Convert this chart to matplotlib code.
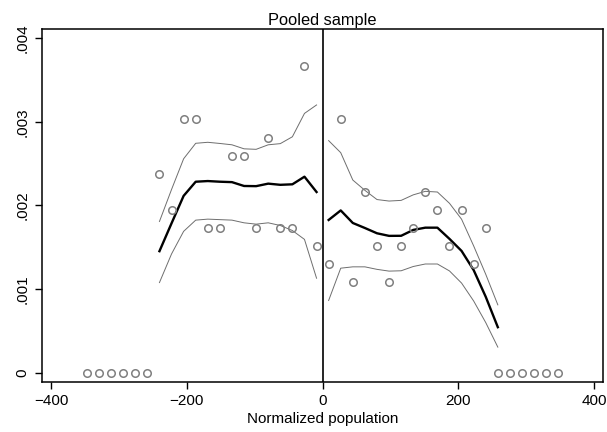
import numpy as np
import matplotlib.pyplot as plt

plt.rcParams['font.family'] = ['Liberation Sans', 'DejaVu Sans']

# bin centres and binned densities (left / right of the cutoff)
x_left = [-347.1, -329.3, -311.5, -293.7, -275.9, -258.1, -240.3, -222.5, -204.7, -186.9,
          -169.1, -151.3, -133.5, -115.7, -97.9, -80.1, -62.3, -44.5, -26.7, -8.9]
dens_left = [0, 0, 0, 0, 0, 0, 0.00238, 0.00194, 0.00303, 0.00303,
             0.00173, 0.00173, 0.00259, 0.00259, 0.00173, 0.00281, 0.00173, 0.00173, 0.00367, 0.00151]

x_right = [8.9, 26.7, 44.5, 62.3, 80.1, 97.9, 115.7, 133.5, 151.3, 169.1,
           186.9, 204.7, 222.5, 240.3, 258.1, 275.9, 293.7, 311.5, 329.3, 347.1]
dens_right = [0.00130, 0.00303, 0.00108, 0.00216, 0.00151, 0.00108, 0.00151, 0.00173, 0.00216, 0.00194,
              0.00151, 0.00194, 0.00130, 0.00173, 0, 0, 0, 0, 0, 0]

# local fit + confidence band, left side (x1000)
fx_left = [-240.3, -222.5, -204.7, -186.9, -169.1, -151.3, -133.5, -115.7, -97.9, -80.1, -62.3, -44.5, -26.7, -8.9]
fit_left = [1.453, 1.786, 2.114, 2.283, 2.291, 2.283, 2.278, 2.232, 2.230, 2.260, 2.246, 2.252, 2.343, 2.160]
hi_left = [1.808, 2.190, 2.557, 2.742, 2.754, 2.740, 2.724, 2.676, 2.670, 2.724, 2.738, 2.820, 3.099, 3.200]
lo_left = [1.078, 1.420, 1.690, 1.824, 1.836, 1.830, 1.824, 1.792, 1.776, 1.792, 1.760, 1.700, 1.594, 1.130]

# right side
fx_right = [8.9, 26.7, 44.5, 62.3, 80.1, 97.9, 115.7, 133.5, 151.3, 169.1, 186.9, 204.7, 222.5, 240.3, 258.1]
fit_right = [1.826, 1.940, 1.790, 1.730, 1.667, 1.636, 1.637, 1.707, 1.734, 1.734, 1.600, 1.456, 1.227, 0.908, 0.545]
hi_right = [2.774, 2.630, 2.303, 2.180, 2.070, 2.052, 2.060, 2.126, 2.168, 2.160, 2.025, 1.835, 1.516, 1.177, 0.812]
lo_right = [0.864, 1.250, 1.266, 1.266, 1.236, 1.215, 1.219, 1.270, 1.300, 1.300, 1.217, 1.072, 0.858, 0.600, 0.307]

fig = plt.figure(figsize=(6.07, 4.32), dpi=100)
ax = fig.add_axes([0.0684, 0.1157, 0.925, 0.8163])

for xs, ds in [(x_left, dens_left), (x_right, dens_right)]:
    ax.plot(xs, ds, 'o', mfc='none', mec='#7f7f7f', ms=5.4, mew=1.1, zorder=3)

for fx, f, hi, lo in [(fx_left, fit_left, hi_left, lo_left), (fx_right, fit_right, hi_right, lo_right)]:
    ax.plot(fx, np.array(hi) / 1000, color='#6e6e6e', lw=0.7)
    ax.plot(fx, np.array(lo) / 1000, color='#6e6e6e', lw=0.7)
    ax.plot(fx, np.array(f) / 1000, color='black', lw=1.7)

ax.axvline(0, color='black', lw=1.2)

ax.set_xlim(-414, 413)
ax.set_ylim(-0.00011, 0.004103)
ax.set_xticks([-400, -200, 0, 200, 400])
ax.set_yticks([0, 0.001, 0.002, 0.003, 0.004])
ax.set_yticklabels(['0', '.001', '.002', '.003', '.004'], rotation=90, va='center')
ax.tick_params(direction='out', length=5, width=1, labelsize=11, colors='black')
for s in ax.spines.values():
    s.set_linewidth(1.1)

ax.set_title('Pooled sample', fontsize=11.8, pad=3)
ax.set_xlabel('Normalized population', fontsize=11, labelpad=3)

fig.savefig('out.png', dpi=100)
